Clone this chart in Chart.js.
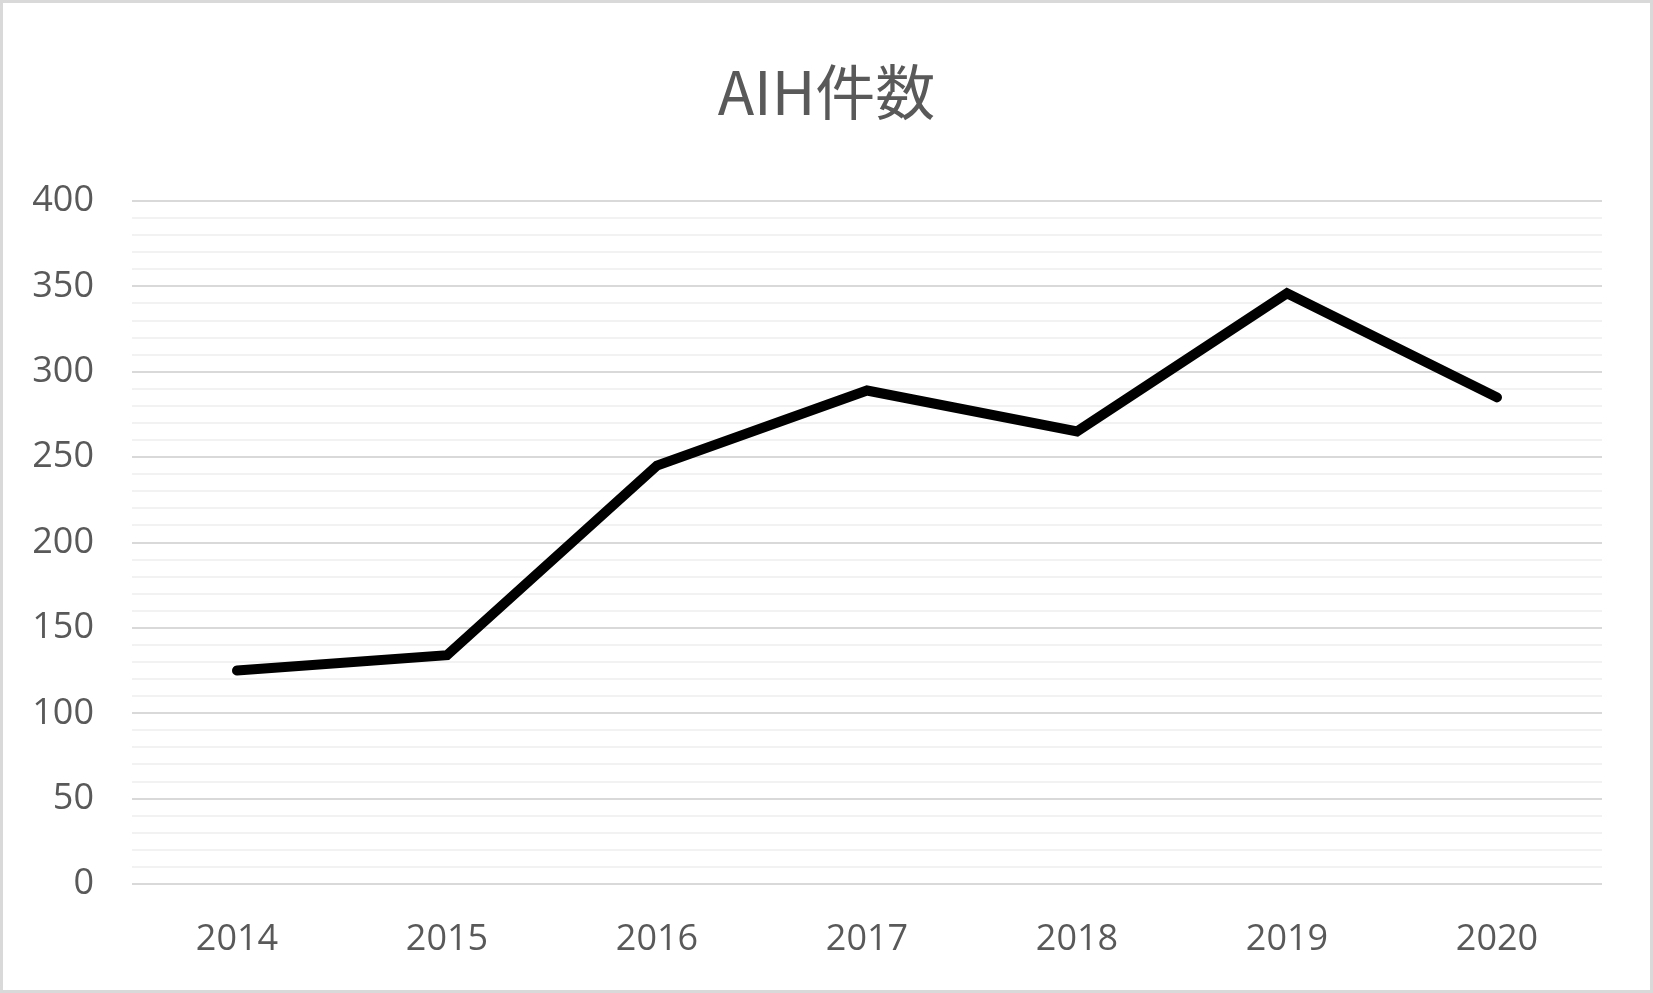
<!DOCTYPE html>
<html>
<head>
<meta charset="utf-8">
<script src="https://cdn.jsdelivr.net/npm/chart.js@4"></script>
<style>
  html, body { margin: 0; padding: 0; background: #fff; }
  #wrap { width: 1653px; height: 993px; position: relative; }
</style>
</head>
<body>
<div id="wrap"><canvas id="chartLine"></canvas></div>
<script>
const years = ["2014", "2015", "2016", "2017", "2018", "2019", "2020"];
const counts = [125, 134, 245, 289, 265, 346, 285];
const yMin = 0;
const yMax = 400;
const yMajorStep = 50;
const yMinorStep = 10;

const textColor = "#595959";
const fontFamily = "'Open Sans', 'Noto Sans CJK JP', sans-serif";

// outer frame like the Excel chart border
const framePlugin = {
  id: "frame",
  beforeDraw(chart) {
    const ctx = chart.ctx;
    ctx.save();
    ctx.fillStyle = "#ffffff";
    ctx.fillRect(0, 0, chart.width, chart.height);
    ctx.strokeStyle = "#d9d9d9";
    ctx.lineWidth = 3;
    ctx.strokeRect(1.5, 1.5, chart.width - 3, chart.height - 3);
    ctx.restore();
  },
};

var ctxLine = document.getElementById("chartLine");

new Chart(ctxLine, {
  type: "line",
  data: {
    labels: years,
    datasets: [
      {
        data: counts,
        borderColor: "#000000",
        borderWidth: 10,
        borderCapStyle: "round",
        borderJoinStyle: "miter",
        pointRadius: 0,
        pointHoverRadius: 0,
        tension: 0,
        fill: false,
      },
    ],
  },
  options: {
    responsive: true,
    maintainAspectRatio: false,
    animation: false,
    devicePixelRatio: 1,
    layout: {
      padding: 0,
    },
    plugins: {
      title: {
        display: true,
        text: "AIH件数",
        color: textColor,
        font: { family: "'Noto Sans CJK JP', sans-serif", size: 60, weight: "normal" },
        padding: { top: 56, bottom: 73 },
      },
      legend: { display: false },
      tooltip: { enabled: false },
    },
    scales: {
      x: {
        type: "category",
        offset: true,
        grid: { display: false, drawTicks: false },
        border: { display: false },
        ticks: {
          color: textColor,
          font: { family: fontFamily, size: 36 },
          padding: 34,
          maxRotation: 0,
        },
        afterFit(scale) {
          scale.height = 109;
        },
      },
      y: {
        min: yMin,
        max: yMax,
        grid: {
          drawTicks: false,
          lineWidth: 2,
          color: (c) => (c.tick && c.tick.value % yMajorStep === 0 ? "#d9d9d9" : "#f2f2f2"),
        },
        border: { display: false },
        ticks: {
          stepSize: yMinorStep,
          autoSkip: false,
          color: textColor,
          font: { family: fontFamily, size: 36 },
          padding: 38,
          callback: (v) => (v % yMajorStep === 0 ? v : ""),
        },
        afterFit(scale) {
          scale.width = 132;
        },
      },
      // empty right-hand spacer so the plot ends where the reference does
      yRight: {
        position: "right",
        min: yMin,
        max: yMax,
        grid: { display: false, drawTicks: false },
        border: { display: false },
        ticks: { display: false },
        afterFit(scale) {
          scale.width = 51;
        },
      },
    },
  },
  plugins: [framePlugin],
});
</script>
</body>
</html>
